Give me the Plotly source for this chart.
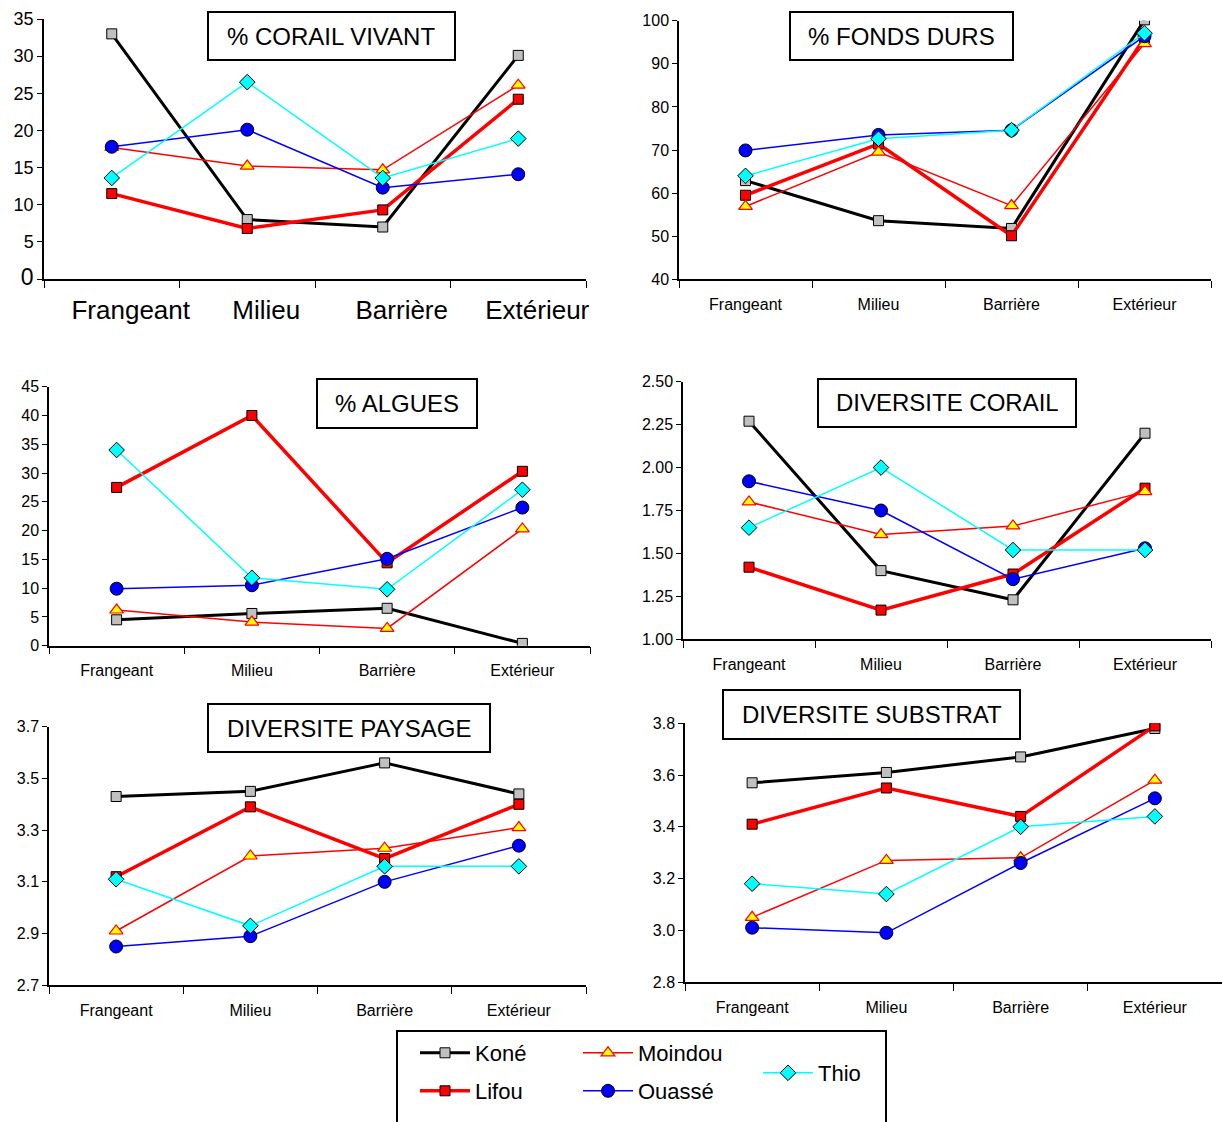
import plotly.graph_objects as go

W, H = 1222, 1122
FONT = "Liberation Sans, Arial, sans-serif"

categories = ["Frangeant", "Milieu", "Barrière", "Extérieur"]
sites = ["Koné", "Lifou", "Moindou", "Ouassé", "Thio"]

# ---- data ----
corail_vivant = {
    "Koné":    [33.0, 8.0, 7.0, 30.1],
    "Lifou":   [11.5, 6.8, 9.3, 24.2],
    "Moindou": [17.7, 15.2, 14.7, 26.1],
    "Ouassé":  [17.8, 20.1, 12.3, 14.1],
    "Thio":    [13.6, 26.5, 13.6, 18.9],
}
fonds_durs = {
    "Koné":    [62.9, 53.6, 51.8, 100.2],
    "Lifou":   [59.5, 71.4, 50.1, 96.0],
    "Moindou": [56.9, 69.5, 57.1, 94.7],
    "Ouassé":  [69.9, 73.5, 74.6, 96.4],
    "Thio":    [64.0, 72.6, 74.6, 97.1],
}
algues = {
    "Koné":    [4.5, 5.6, 6.5, 0.4],
    "Lifou":   [27.5, 40.0, 14.4, 30.3],
    "Moindou": [6.2, 4.1, 3.0, 20.3],
    "Ouassé":  [9.9, 10.5, 15.1, 24.0],
    "Thio":    [34.0, 11.8, 9.8, 27.1],
}
diversite_corail = {
    "Koné":    [2.27, 1.40, 1.23, 2.20],
    "Lifou":   [1.42, 1.17, 1.38, 1.88],
    "Moindou": [1.80, 1.61, 1.66, 1.86],
    "Ouassé":  [1.92, 1.75, 1.35, 1.53],
    "Thio":    [1.65, 2.00, 1.52, 1.52],
}
diversite_paysage = {
    "Koné":    [3.43, 3.45, 3.56, 3.44],
    "Lifou":   [3.12, 3.39, 3.19, 3.40],
    "Moindou": [2.91, 3.20, 3.23, 3.31],
    "Ouassé":  [2.85, 2.89, 3.10, 3.24],
    "Thio":    [3.11, 2.93, 3.16, 3.16],
}
diversite_substrat = {
    "Koné":    [3.57, 3.61, 3.67, 3.78],
    "Lifou":   [3.41, 3.55, 3.44, 3.79],
    "Moindou": [3.05, 3.27, 3.28, 3.58],
    "Ouassé":  [3.01, 2.99, 3.26, 3.51],
    "Thio":    [3.18, 3.14, 3.40, 3.44],
}

# ---- styles ----
styles = {
    "Koné":    dict(line=dict(color="black", width=3),
                    marker=dict(symbol="square", size=10, color="#c0c0c0", line=dict(color="black", width=1))),
    "Lifou":   dict(line=dict(color="#ff0000", width=3.5),
                    marker=dict(symbol="square", size=10, color="#ff0000", line=dict(color="black", width=1))),
    "Moindou": dict(line=dict(color="#ff0000", width=1.5),
                    marker=dict(symbol="triangle-up", size=12, color="#ffff00", line=dict(color="#ff0000", width=1.2))),
    "Ouassé":  dict(line=dict(color="#0000ff", width=1.5),
                    marker=dict(symbol="circle", size=13, color="#0000ff", line=dict(color="black", width=1))),
    "Thio":    dict(line=dict(color="#00ffff", width=1.5),
                    marker=dict(symbol="diamond", size=12, color="#00ffff", line=dict(color="black", width=1))),
}

def px_x(x):
    return x / W

def px_y(y):
    return 1 - y / H

panels = [
    dict(data=corail_vivant, title="% CORAIL VIVANT", xpx=(44, 586), ypx=(279, 19), yr=(0, 35),
         dtick=5, fmt="d", yfs=18, xfs=26, xstand=7, xshift=19, box=(208, 12, 455, 60)),
    dict(data=fonds_durs, title="% FONDS DURS", xpx=(679, 1211), ypx=(279.3, 20.7), yr=(40, 100),
         dtick=10, fmt="d", yfs=16, xfs=16, xstand=10, xshift=0, box=(790, 12, 1013, 60)),
    dict(data=algues, title="% ALGUES", xpx=(49, 590), ypx=(645.7, 386.7), yr=(0, 45),
         dtick=5, fmt="d", yfs=16, xfs=16, xstand=9, xshift=0, box=(317, 379, 477, 428)),
    dict(data=diversite_corail, title="DIVERSITE CORAIL", xpx=(683, 1211), ypx=(639.3, 381.7), yr=(1, 2.5),
         dtick=0.25, fmt=".2f", yfs=16, xfs=16, xstand=10, xshift=0, box=(818, 379, 1076, 427)),
    dict(data=diversite_paysage, title="DIVERSITE PAYSAGE", xpx=(49, 586), ypx=(985.3, 726.7), yr=(2.7, 3.7),
         dtick=0.2, fmt=".1f", yfs=16, xfs=16, xstand=10, xshift=0, box=(208, 704, 490, 752)),
    dict(data=diversite_substrat, title="DIVERSITE SUBSTRAT", xpx=(685, 1222), ypx=(982, 723.3), yr=(2.8, 3.8),
         dtick=0.2, fmt=".1f", yfs=16, xfs=16, xstand=10, xshift=0, box=(723, 690, 1020, 739)),
]

fig = go.Figure()
shapes = []
annotations = []

legend_pos = {
    "Koné": (415, 1053), "Lifou": (415, 1091),
    "Moindou": (578, 1053), "Ouassé": (578, 1091),
    "Thio": (758, 1073),
}

for i, p in enumerate(panels):
    n = i + 1
    xa = "x" if n == 1 else f"x{n}"
    ya = "y" if n == 1 else f"y{n}"
    for j, s in enumerate(sites):
        st = styles[s]
        fig.add_trace(go.Scatter(
            x=categories, y=p["data"][s], mode="lines+markers", name=s,
            line=st["line"], marker=st["marker"], xaxis=xa, yaxis=ya,
            showlegend=(n == 1),
            legend=("legend" if j == 0 else f"legend{j+1}"),
        ))
    yr0, yr1 = p["yr"]
    nt = int(round((yr1 - yr0) / p["dtick"]))
    tickvals = [yr0 + k * p["dtick"] for k in range(nt + 1)]
    ticktext = [format(v if p["fmt"] != "d" else int(round(v)), p["fmt"]) for v in tickvals]
    if n == 1:
        ticktext[0] = "<span style='font-size:23px'>0</span>"
    xkey = "xaxis" if n == 1 else f"xaxis{n}"
    ykey = "yaxis" if n == 1 else f"yaxis{n}"
    fig.update_layout(**{
        xkey: dict(domain=[px_x(p["xpx"][0]), px_x(p["xpx"][1])], anchor=ya,
                   type="category", range=[-0.5, 3.5], tickson="boundaries",
                   ticks="outside", ticklen=7, tickwidth=1.2, tickcolor="black",
                   showline=True, linecolor="black", linewidth=1.5, showgrid=False,
                   zeroline=False, ticklabelstandoff=p["xstand"], ticklabelshift=p["xshift"],
                   automargin=False,
                   tickfont=dict(family=FONT, size=p["xfs"], color="black")),
        ykey: dict(domain=[px_y(p["ypx"][0]), px_y(p["ypx"][1])], anchor=xa,
                   range=[yr0, yr1], tickvals=tickvals, ticktext=ticktext,
                   ticks="outside", ticklen=5, tickwidth=1.2, tickcolor="black",
                   showline=True, linecolor="black", linewidth=1.5, showgrid=False,
                   zeroline=False, automargin=False,
                   tickfont=dict(family=FONT, size=p["yfs"], color="black")),
    })
    bx0, by0, bx1, by1 = p["box"]
    shapes.append(dict(type="rect", xref="paper", yref="paper",
                       x0=px_x(bx0), x1=px_x(bx1), y0=px_y(by1), y1=px_y(by0),
                       line=dict(color="black", width=2), fillcolor="white", layer="above"))
    annotations.append(dict(xref="paper", yref="paper", x=px_x((bx0 + bx1) / 2), y=px_y((by0 + by1) / 2),
                            text=p["title"], showarrow=False, xanchor="center", yanchor="middle",
                            font=dict(family=FONT, size=24, color="black")))

shapes.append(dict(type="rect", xref="paper", yref="paper",
                   x0=px_x(397), x1=px_x(886), y0=px_y(1124), y1=px_y(1031),
                   line=dict(color="black", width=2), fillcolor="rgba(0,0,0,0)"))

legends = {}
for j, s in enumerate(sites):
    key = "legend" if j == 0 else f"legend{j+1}"
    lx, ly = legend_pos[s]
    legends[key] = dict(x=px_x(lx), y=px_y(ly), xanchor="left", yanchor="middle",
                        bgcolor="rgba(0,0,0,0)", borderwidth=0, itemwidth=50,
                        font=dict(family=FONT, size=22, color="black"))

fig.update_layout(
    width=W, height=H, margin=dict(l=0, r=0, t=0, b=0, autoexpand=False),
    paper_bgcolor="white", plot_bgcolor="white",
    shapes=shapes, annotations=annotations,
    **legends,
)

fig.write_html("out.html", config={"displayModeBar": False},
               post_script="document.body.style.margin='0px';document.body.style.overflow='hidden';")
